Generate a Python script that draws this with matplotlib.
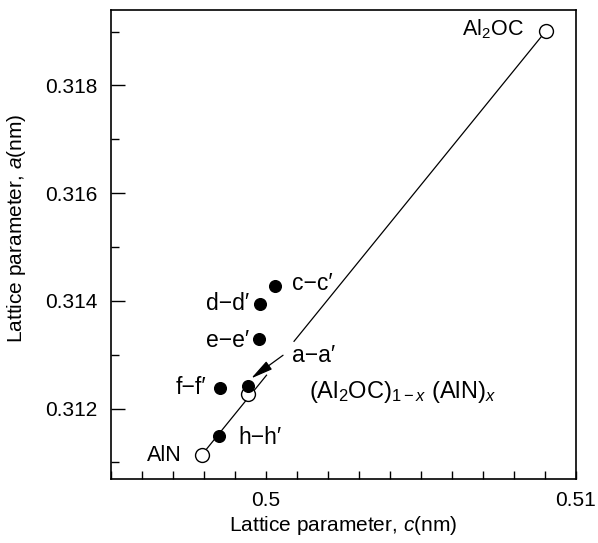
import numpy as np
import matplotlib
matplotlib.use("Agg")
import matplotlib.pyplot as plt
from matplotlib.ticker import MultipleLocator, FixedLocator

plt.rcParams['font.family'] = ['Liberation Sans', 'DejaVu Sans']
plt.rcParams['mathtext.fontset'] = 'custom'
plt.rcParams['mathtext.rm'] = 'Liberation Sans'
plt.rcParams['mathtext.it'] = 'Liberation Sans:italic'
plt.rcParams['font.size'] = 15

# end members (open circles)
end_names = ['AlN', 'mid', 'Al2OC']
end_c = [0.49793, 0.49941, 0.50903]
end_a = [0.31114, 0.31227, 0.31901]

# measured samples (filled circles)
sample_names = ['a\u2212a\u2032', 'c\u2212c\u2032', 'd\u2212d\u2032', 'e\u2212e\u2032', 'f\u2212f\u2032', 'h\u2212h\u2032']
sample_c = [0.49941, 0.50029, 0.49982, 0.49976, 0.49853, 0.49847]
sample_a = [0.31241, 0.31427, 0.31395, 0.31330, 0.31238, 0.31150]

fig = plt.figure(figsize=(5.98, 5.43), dpi=100)
ax = fig.add_axes([0.1856, 0.1186, 0.7776, 0.863])

# Vegard line AlN -> Al2OC, broken where the a-a' label sits
c0, c1 = end_c[0], end_c[2]
a0, a1 = end_a[0], end_a[2]
for t0, t1 in [(0.0, 0.188), (0.268, 1.0)]:
    ax.plot([c0 + t0 * (c1 - c0), c0 + t1 * (c1 - c0)],
            [a0 + t0 * (a1 - a0), a0 + t1 * (a1 - a0)],
            color='black', lw=0.9, zorder=1)

ax.plot(end_c, end_a, 'o', ms=10, mfc='white', mec='black', mew=1.0, ls='none', zorder=3)
ax.plot(sample_c, sample_a, 'o', ms=8.4, mfc='black', mec='black', ls='none', zorder=4)

# labels
lab = 16.5
ax.text(0.50832, 0.31904, 'Al$_2$OC', ha='right', va='center', fontsize=15.5)
ax.text(0.49729, 0.31113, 'AlN', ha='right', va='center', fontsize=15.5)
ax.text(0.50084, 0.31433, sample_names[1], ha='left', va='center', fontsize=lab)
ax.text(0.49945, 0.31396, sample_names[2], ha='right', va='center', fontsize=lab)
ax.text(0.49945, 0.31327, sample_names[3], ha='right', va='center', fontsize=lab)
ax.text(0.50084, 0.31299, sample_names[0], ha='left', va='center', fontsize=lab)
ax.text(0.49806, 0.31239, sample_names[4], ha='right', va='center', fontsize=lab)
ax.text(0.49910, 0.31147, sample_names[5], ha='left', va='center', fontsize=lab)
ax.text(0.50139, 0.31230, '(Al$_2$OC)$_{1\u2212x}$ (AlN)$_{x}$', ha='left', va='center',
        fontsize=17)

ax.annotate('', xy=(0.49952, 0.31256), xytext=(0.50055, 0.31299),
            arrowprops=dict(arrowstyle='-|>,head_length=0.9,head_width=0.2',
                            color='black', lw=0.9, shrinkA=0, shrinkB=0))

ax.set_xlim(0.495, 0.51)
ax.set_ylim(0.3107, 0.3194)
ax.xaxis.set_major_locator(FixedLocator([0.5, 0.51]))
ax.xaxis.set_minor_locator(MultipleLocator(0.001))
ax.set_xticklabels(['0.5', '0.51'])
ax.yaxis.set_major_locator(FixedLocator([0.312, 0.314, 0.316, 0.318]))
ax.yaxis.set_minor_locator(MultipleLocator(0.001))
ax.set_yticklabels(['0.312', '0.314', '0.316', '0.318'])

ax.tick_params(axis='x', which='both', direction='in', length=6, width=1.0, top=False, pad=9)
ax.tick_params(axis='y', which='major', direction='in', length=10, width=1.0, right=False, pad=9.5)
ax.tick_params(axis='y', which='minor', direction='in', length=6, width=1.0, right=False)
for s in ax.spines.values():
    s.set_linewidth(1.2)

ax.set_xlabel('Lattice parameter, $c$(nm)')
ax.set_ylabel('Lattice parameter, $a$(nm)')
ax.xaxis.set_label_coords(0.5, -0.075)
ax.yaxis.set_label_coords(-0.178, 0.533)

fig.savefig('out.png', dpi=100)
